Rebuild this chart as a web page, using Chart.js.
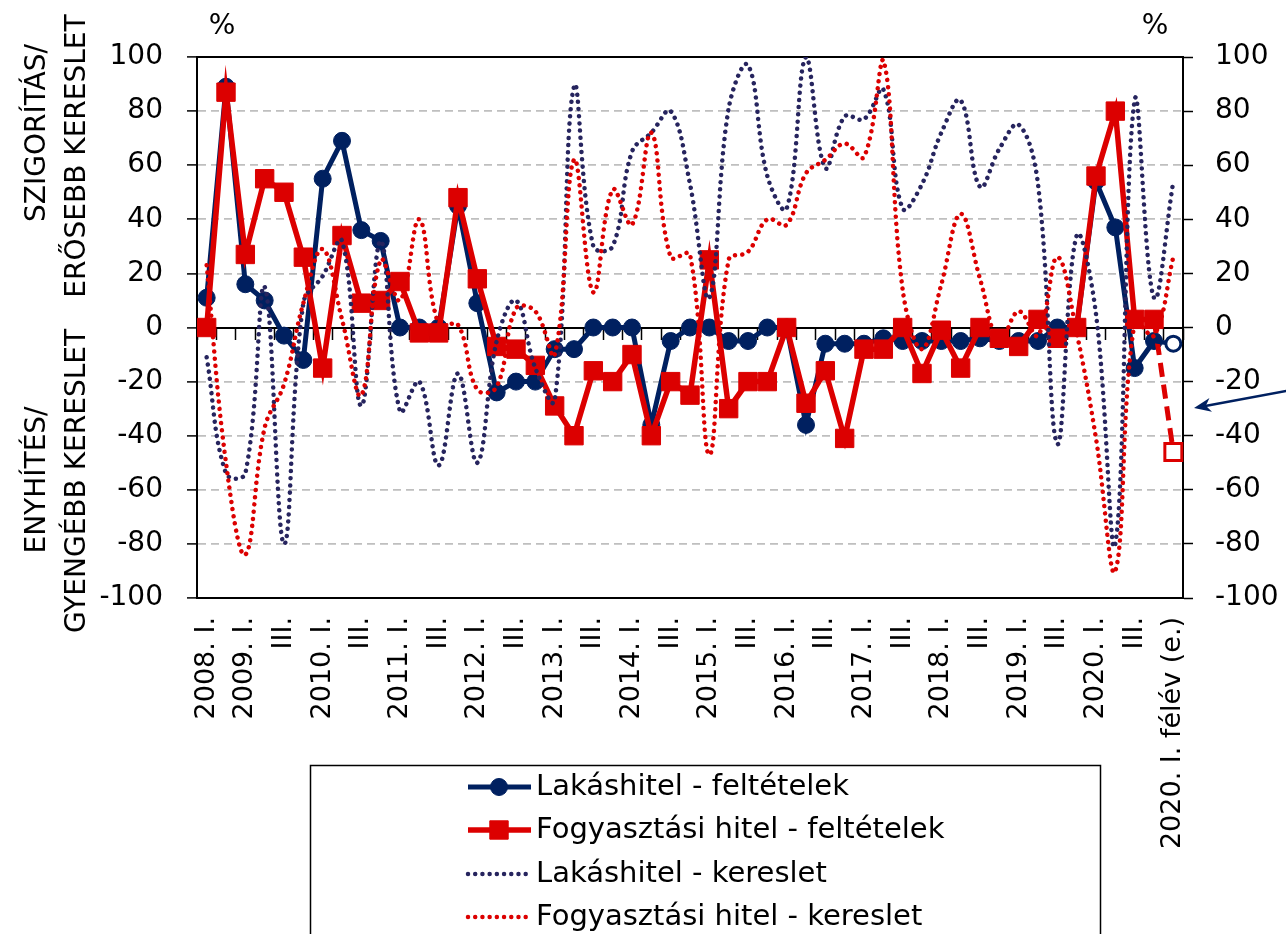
<!DOCTYPE html>
<html lang="hu">
<head>
<meta charset="utf-8">
<title>Hitelezési feltételek és hitelkereslet</title>
<script src="https://cdn.jsdelivr.net/npm/chart.js@4.4.1/dist/chart.umd.min.js"></script>
<style>
  html, body { margin: 0; padding: 0; background: #fff; }
  #wrap { width: 1286px; height: 934px; position: relative; overflow: hidden; }
</style>
</head>
<body>
<div id="wrap"><canvas id="chart" width="1286" height="934"></canvas></div>
<script>
/* ── Adatok ─────────────────────────────────────────── */
const categories = [
  '2008. I.', '', '2009. I.', '', 'III.', '',
  '2010. I.', '', 'III.', '',
  '2011. I.', '', 'III.', '',
  '2012. I.', '', 'III.', '',
  '2013. I.', '', 'III.', '',
  '2014. I.', '', 'III.', '',
  '2015. I.', '', 'III.', '',
  '2016. I.', '', 'III.', '',
  '2017. I.', '', 'III.', '',
  '2018. I.', '', 'III.', '',
  '2019. I.', '', 'III.', '',
  '2020. I.', '', 'III.', '',
  '2020. I. félév (e.)'
];

const lakasFeltetel = [
  11, 89, 16, 10, -3, -12, 55, 69, 36, 32,
  0, 0, 0, 45, 9, -24, -20, -20, -8, -8,
  0, 0, 0, -36, -5, 0, 0, -5, -5, 0,
  0, -36, -6, -6, -6, -4, -5, -5, -5, -5,
  -4, -5, -5, -5, 0, 0, 54, 37, -15, -5,
  null
];
const fogyFeltetel = [
  0, 87, 27, 55, 50, 26, -15, 34, 9, 10,
  17, -2, -2, 48, 18, -7, -8, -14, -29, -40,
  -16, -20, -10, -40, -20, -25, 25, -30, -20, -20,
  0, -28, -16, -41, -8, -8, 0, -17, -1, -15,
  0, -4, -7, 3, -4, 0, 56, 80, 3, 3,
  null
];
const lakasKereslet = [
  -11, -54, -54, 15, -80, 9, 19, 32, -29, 32,
  -31, -20, -51, -17, -50, -5, 10, -15, -27, 89,
  30, 30, 65, 72, 80, 53, 11, 81, 97, 56,
  44, 100, 59, 78, 77, 88, 44, 53, 72, 84,
  52, 66, 75, 53, -43, 34, 5, -80, 84, 11,
  54
];
const fogyKereslet = [
  23, -50, -84, -37, -21, 9, 29, 3, -25, 25,
  10, 40, 1, 1, -23, -22, 7, 6, -10, 62,
  13, 51, 38, 72, 26, 27, -47, 25, 28, 40,
  38, 57, 62, 68, 63, 99, 14, -8, 16, 42,
  18, -5, 6, -3, 26, -2, -41, -90, 2, -3,
  26
];
// 2020. I. félév (e.) – várakozás
const lakasBecsles = -6;
const fogyBecsles = -46;

const seriesNames = [
  'Lakáshitel - feltételek',
  'Fogyasztási hitel - feltételek',
  'Lakáshitel - kereslet',
  'Fogyasztási hitel - kereslet'
];

/* ── Stílus ─────────────────────────────────────────── */
const NAVY = '#002060';
const RED = '#DC0000';
const DOT_NAVY = '#26245E';
const FONT = 'DejaVu Sans';
Chart.defaults.font.family = FONT;
Chart.defaults.color = '#000';

const last = categories.length - 1;
const forecast = (series, est) =>
  categories.map((_, i) => (i === last - 1 ? series[last - 1] : i === last ? est : null));
const onlyLast = v => c => (c.dataIndex === last ? v : 0);

const datasets = [
  {
    label: seriesNames[0], data: lakasFeltetel, order: 4,
    borderColor: NAVY, backgroundColor: NAVY, borderWidth: 5, tension: 0,
    pointStyle: 'circle', pointRadius: 8.5, pointBorderWidth: 1,
    pointBackgroundColor: NAVY, pointBorderColor: NAVY
  },
  {
    label: seriesNames[1], data: fogyFeltetel, order: 3,
    borderColor: RED, backgroundColor: RED, borderWidth: 5.5, tension: 0,
    pointStyle: 'rect', pointRadius: 13, pointBorderWidth: 1,
    pointBackgroundColor: RED, pointBorderColor: RED
  },
  {
    label: seriesNames[2], data: lakasKereslet, order: 2,
    borderColor: DOT_NAVY, borderWidth: 4.5, borderDash: [0.01, 7.2], borderCapStyle: 'round',
    tension: 0.4, pointRadius: 0
  },
  {
    label: seriesNames[3], data: fogyKereslet, order: 1,
    borderColor: RED, borderWidth: 4.5, borderDash: [0.01, 7.2], borderCapStyle: 'round',
    tension: 0.4, pointRadius: 0
  },
  {
    label: 'lakás becslés', data: forecast(lakasFeltetel, lakasBecsles), order: 0,
    borderColor: NAVY, borderWidth: 4.5, borderDash: [14, 8], tension: 0,
    pointStyle: 'circle', pointRadius: onlyLast(7.5), pointBorderWidth: 3,
    pointBackgroundColor: '#fff', pointBorderColor: NAVY
  },
  {
    label: 'fogyasztási becslés', data: forecast(fogyFeltetel, fogyBecsles), order: 0,
    borderColor: RED, borderWidth: 5, borderDash: [14, 8], tension: 0,
    pointStyle: 'rect', pointRadius: onlyLast(12), pointBorderWidth: 3,
    pointBackgroundColor: '#fff', pointBorderColor: RED
  }
];

/* ── Kiegészítő rajzok: keret, feliratok, jelmagyarázat, nyíl ── */
// függőleges (alulról felfelé olvasható) felirat, középpontja (x, cy)
function vText(ctx, text, x, cy) {
  ctx.save();
  ctx.translate(x, cy);
  ctx.rotate(-Math.PI / 2);
  ctx.textAlign = 'center';
  ctx.textBaseline = 'middle';
  ctx.fillText(text, 0, 0);
  ctx.restore();
}

function drawLegend(chart) {
  const ctx = chart.ctx;
  const rows = [787, 830, 874, 917];
  ctx.save();
  ctx.fillStyle = '#fff';
  ctx.fillRect(310, 765, 790, 200);
  ctx.strokeStyle = '#000';
  ctx.lineWidth = 1.5;
  ctx.strokeRect(310.5, 765.5, 790, 200);
  for (let r = 0; r < 4; r++) {
    const ds = chart.data.datasets[r];
    const y = rows[r];
    ctx.save();
    ctx.strokeStyle = ds.borderColor;
    ctx.lineWidth = ds.borderWidth;
    ctx.setLineDash(ds.borderDash || []);
    ctx.lineCap = ds.borderCapStyle || 'butt';
    ctx.beginPath();
    ctx.moveTo(468, y);
    ctx.lineTo(531, y);
    ctx.stroke();
    ctx.restore();
    if (ds.pointRadius > 0) {
      ctx.fillStyle = ds.pointBackgroundColor;
      ctx.strokeStyle = ds.pointBorderColor;
      ctx.lineWidth = ds.pointBorderWidth;
      Chart.helpers.drawPoint(ctx, {
        pointStyle: ds.pointStyle, radius: ds.pointRadius,
        borderWidth: ds.pointBorderWidth, rotation: 0
      }, 499, y);
    }
    ctx.fillStyle = '#000';
    ctx.font = '29px "' + FONT + '"';
    ctx.textAlign = 'left';
    ctx.textBaseline = 'middle';
    ctx.fillText(ds.label, 536, y);
  }
  ctx.restore();
}

function drawArrow(ctx, x1, y1, x2, y2) {
  const ang = Math.atan2(y2 - y1, x2 - x1);
  ctx.save();
  ctx.strokeStyle = NAVY;
  ctx.fillStyle = NAVY;
  ctx.lineWidth = 2.5;
  ctx.beginPath();
  ctx.moveTo(x1, y1);
  ctx.lineTo(x2 - 10 * Math.cos(ang), y2 - 10 * Math.sin(ang));
  ctx.stroke();
  ctx.translate(x2, y2);
  ctx.rotate(ang);
  ctx.beginPath();
  ctx.moveTo(0, 0);
  ctx.lineTo(-17, -7);
  ctx.lineTo(-12, 0);
  ctx.lineTo(-17, 7);
  ctx.closePath();
  ctx.fill();
  ctx.restore();
}

const decorPlugin = {
  id: 'decor',
  beforeDatasetsDraw(chart) {
    const { ctx, chartArea: a } = chart;
    ctx.save();
    ctx.strokeStyle = '#000';
    ctx.lineWidth = 2;
    ctx.beginPath();
    ctx.moveTo(a.left, a.top);
    ctx.lineTo(a.right, a.top);
    ctx.stroke();
    ctx.restore();
  },
  afterDraw(chart) {
    const ctx = chart.ctx;
    ctx.save();
    ctx.fillStyle = '#000';
    ctx.font = '28px "' + FONT + '"';
    ctx.textAlign = 'center';
    ctx.textBaseline = 'middle';
    ctx.fillText('%', 222, 27);
    ctx.fillText('%', 1155, 27);
    vText(ctx, 'SZIGORÍTÁS/', 38, 133);
    vText(ctx, 'ERŐSEBB KERESLET', 78, 156);
    vText(ctx, 'ENYHÍTÉS/', 38, 480);
    vText(ctx, 'GYENGÉBB KERESLET', 78, 481);
    ctx.restore();
    drawLegend(chart);
    drawArrow(ctx, 1292, 390, 1194, 408);
  }
};

/* ── Diagram ────────────────────────────────────────── */
const tickFont = { family: FONT, size: 28 };

new Chart(document.getElementById('chart'), {
  type: 'line',
  data: { labels: categories, datasets },
  options: {
    responsive: false,
    animation: false,
    events: [],
    layout: { padding: { top: 57, left: 0, right: 0, bottom: 0 } },
    plugins: { legend: { display: false }, tooltip: { enabled: false } },
    scales: {
      x: {
        type: 'category',
        position: 'bottom',
        offset: true,
        grid: { drawOnChartArea: false, drawTicks: false },
        border: { color: '#000', width: 2 },
        ticks: {
          autoSkip: false, maxRotation: 90, minRotation: 90,
          padding: 19, font: { family: FONT, size: 27 }, color: '#000'
        },
        afterFit: s => { s.height = 336; }
      },
      x0: {
        type: 'category',
        axis: 'x',
        position: { y: 0 },
        offset: true,
        grid: {
          offset: true, drawOnChartArea: false, drawTicks: true,
          tickLength: 11, tickColor: '#000', tickWidth: 1.5
        },
        border: { color: '#000', width: 2 },
        ticks: { display: false }
      },
      y: {
        position: 'left',
        min: -100, max: 100,
        ticks: { stepSize: 20, padding: 24, font: tickFont, color: '#000' },
        grid: {
          color: c => (c.tick.value === 0 || Math.abs(c.tick.value) === 100 ? 'rgba(0,0,0,0)' : '#BFBFBF'),
          lineWidth: 1.8,
          tickColor: '#000', tickWidth: 1.5, tickLength: 10
        },
        border: { color: '#000', width: 2, dash: [8, 5] },
        afterFit: s => { s.width = 197; }
      },
      y2: {
        position: 'right',
        min: -100, max: 100,
        ticks: { stepSize: 20, padding: 22, font: tickFont, color: '#000' },
        grid: { drawOnChartArea: false, tickColor: '#000', tickWidth: 1.5, tickLength: 10 },
        border: { color: '#000', width: 2 },
        afterFit: s => { s.width = 103; }
      }
    }
  },
  plugins: [decorPlugin]
});
</script>
</body>
</html>
